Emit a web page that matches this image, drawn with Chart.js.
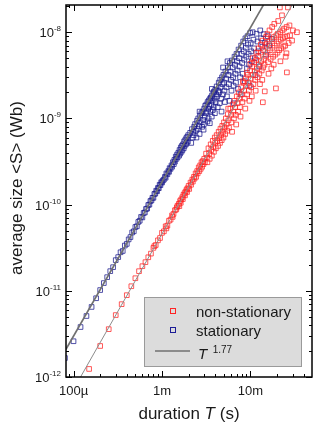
<!DOCTYPE html>
<html>
<head>
<meta charset="utf-8">
<script src="https://cdn.jsdelivr.net/npm/chart.js@4.4.1/dist/chart.umd.min.js"></script>
<style>
  html, body { margin: 0; padding: 0; background: #fff; }
  canvas { display: block; }
</style>
</head>
<body>
<canvas id="chart" width="323" height="428"></canvas>
<script>
// axis ranges (duration T in s, average size S in Wb)
const xRange = [8.22e-5, 4.96e-2];
const yRange = [1e-12, 2.07e-8];

const xLabelValues = [1e-4, 1e-3, 1e-2];
const xLabels = ['100µ', '1m', '10m'];
const yLabelValues = [1e-12, 1e-11, 1e-10, 1e-9, 1e-8];
const yLabelExps = ['-12', '-11', '-10', '-9', '-8'];

const seriesNames = ['non-stationary', 'stationary'];
const fitLabel = ['T', '1.77'];

// power law guides T^1.77 (end points read at the frame)
const statLineT = [8.22e-5, 1.4e-2];
const statLineS = [2.1e-12, 2.07e-8];
const nonLineT = [1.2e-4, 2.96e-2];
const nonLineS = [1e-12, 2.07e-8];

// stationary measurements [T, <S>]
const bluePoints = [
  [8e-5,1.66e-12],[1.0e-4,2.6e-12],[1.2e-4,3.8e-12],[1.4e-4,5.1e-12],[1.6e-4,6.5e-12],[1.8e-4,8.2e-12],
  [2.0e-4,1.02e-11],[2.2e-4,1.23e-11],[2.4e-4,1.44e-11],[2.6e-4,1.69e-11],[2.8e-4,1.88e-11],[3.0e-4,2.27e-11],
  [3.2e-4,2.46e-11],[3.4e-4,2.8e-11],
  [3.6e-4,2.9e-11],[3.8e-4,3.35e-11],[4.0e-4,3.5e-11],[4.2e-4,3.95e-11],[4.4e-4,4.2e-11],[4.6e-4,4.75e-11],
  [4.8e-4,4.9e-11],[5.0e-4,5.5e-11],[5.2e-4,5.6e-11],[5.4e-4,6.3e-11],[5.6e-4,6.5e-11],[5.8e-4,7.2e-11],
  [6.0e-4,7.1e-11],[6.2e-4,8.0e-11],[6.4e-4,8.1e-11],[6.6e-4,8.9e-11],[6.8e-4,9.0e-11],[7.0e-4,9.9e-11],
  [7.2e-4,1.0e-10],[7.4e-4,1.1e-10],[7.6e-4,1.12e-10],[7.8e-4,1.2e-10],[8.0e-4,1.2e-10],[8.2e-4,1.33e-10],
  [8.4e-4,1.34e-10],[8.6e-4,1.45e-10],[8.8e-4,1.43e-10],[9.0e-4,1.56e-10],[9.2e-4,1.55e-10],[9.4e-4,1.7e-10],
  [9.6e-4,1.68e-10],[9.8e-4,1.82e-10],[1.0e-3,1.8e-10],
  [1.02e-3,1.9e-10],[1.05e-3,1.95e-10],[1.08e-3,2.1e-10],[1.1e-3,2.05e-10],[1.12e-3,2.3e-10],[1.15e-3,2.25e-10],
  [1.18e-3,2.45e-10],[1.2e-3,2.4e-10],[1.22e-3,2.65e-10],[1.25e-3,2.6e-10],[1.28e-3,2.85e-10],[1.3e-3,2.75e-10],
  [1.33e-3,3.1e-10],[1.36e-3,2.95e-10],[1.38e-3,3.3e-10],[1.4e-3,3.15e-10],[1.43e-3,3.6e-10],[1.46e-3,3.4e-10],
  [1.48e-3,3.8e-10],[1.5e-3,3.55e-10],[1.53e-3,4.0e-10],[1.56e-3,3.7e-10],[1.58e-3,4.3e-10],[1.6e-3,3.9e-10],
  [1.63e-3,4.6e-10],[1.66e-3,4.1e-10],[1.68e-3,4.8e-10],[1.7e-3,4.3e-10],[1.73e-3,5.0e-10],[1.76e-3,4.5e-10],
  [1.78e-3,5.4e-10],[1.8e-3,4.8e-10],[1.83e-3,5.6e-10],[1.86e-3,5.0e-10],[1.88e-3,5.9e-10],[1.9e-3,5.2e-10],
  [1.93e-3,6.1e-10],[1.96e-3,5.4e-10],[1.98e-3,6.4e-10],
  [2.08e-3,6.8e-10],[2.14e-3,5.2e-10],[2.18e-3,7.5e-10],[2.23e-3,6.0e-10],[2.26e-3,7.0e-10],[2.31e-3,8.0e-10],
  [2.28e-3,6.4e-10],[2.37e-3,8.6e-10],[2.42e-3,7.2e-10],[2.45e-3,6.0e-10],[2.49e-3,9.4e-10],[2.53e-3,7.6e-10],
  [2.57e-3,1.0e-9],[2.62e-3,8.2e-10],[2.66e-3,6.6e-10],[2.69e-3,1.08e-9],[2.73e-3,9.0e-10],[2.66e-3,1.2e-9],
  [2.79e-3,1.15e-9],[2.84e-3,8.0e-10],[2.88e-3,1.2e-9],[2.93e-3,9.6e-10],[2.95e-3,7.4e-10],[3.0e-3,1.3e-9],
  [3.04e-3,1.05e-9],[2.98e-3,8.6e-10],[3.08e-3,1.4e-9],[3.13e-3,1.15e-9],[3.17e-3,1.45e-9],[3.22e-3,1.2e-9],
  [3.26e-3,9.2e-10],[3.28e-3,1.55e-9],[3.33e-3,1.3e-9],[3.36e-3,1.0e-9],[3.39e-3,1.62e-9],[3.44e-3,1.4e-9],
  [3.47e-3,8.8e-10],[3.5e-3,1.7e-9],[3.53e-3,1.2e-9],[3.57e-3,1.75e-9],[3.62e-3,1.45e-9],[3.65e-3,1.05e-9],
  [3.68e-3,1.85e-9],[3.72e-3,1.6e-9],[3.75e-3,1.25e-9],[3.66e-3,2.2e-9],[3.81e-3,2.0e-9],[3.85e-3,1.35e-9],
  [3.88e-3,2.05e-9],[3.93e-3,1.7e-9],[3.96e-3,1.15e-9],[4.0e-3,2.15e-9],[4.05e-3,1.55e-9],[4.09e-3,1.9e-9],
  [4.15e-3,2.35e-9],[4.21e-3,1.8e-9],[4.26e-3,1.35e-9],[4.32e-3,2.1e-9],[4.38e-3,2.6e-9],[4.43e-3,2.0e-9],
  [4.48e-3,1.5e-9],[4.55e-3,2.8e-9],[4.6e-3,2.3e-9],[4.66e-3,1.7e-9],[4.71e-3,1.2e-9],[4.77e-3,3.0e-9],
  [4.83e-3,2.5e-9],[4.88e-3,1.9e-9],[4.9e-3,3.9e-9],[4.95e-3,3.2e-9],[5.02e-3,2.6e-9],[5.08e-3,2.1e-9],
  [5.14e-3,1.55e-9],[5.21e-3,3.5e-9],[5.28e-3,2.9e-9],[5.35e-3,2.3e-9],[5.42e-3,1.8e-9],[5.5e-3,4.6e-9],
  [5.56e-3,3.9e-9],[5.63e-3,3.2e-9],[5.7e-3,2.5e-9],[5.78e-3,1.6e-9],[5.86e-3,4.4e-9],[5.95e-3,3.5e-9],
  [6.03e-3,2.8e-9],[6.1e-3,2.1e-9],[6.18e-3,4.7e-9],[6.27e-3,3.9e-9],[6.36e-3,3.0e-9],[6.44e-3,2.4e-9],
  [6.5e-3,1.5e-9],[6.6e-3,5.2e-9],[6.68e-3,4.2e-9],[6.77e-3,3.3e-9],[6.86e-3,2.6e-9],[6.95e-3,5.6e-9],
  [7.05e-3,4.6e-9],[7.14e-3,3.6e-9],[7.23e-3,2.2e-9],[7.33e-3,6.3e-9],[7.43e-3,5.0e-9],[7.53e-3,4.0e-9],
  [7.63e-3,3.0e-9],[7.73e-3,1.9e-9],[7.84e-3,7.0e-9],[7.95e-3,5.6e-9],[8.06e-3,4.4e-9],[8.17e-3,3.3e-9],
  [8.28e-3,7.8e-9],[8.4e-3,6.0e-9],[8.52e-3,4.8e-9],[8.64e-3,2.7e-9],[8.76e-3,8.5e-9],[8.88e-3,6.6e-9],
  [9.0e-3,5.2e-9],[9.13e-3,3.8e-9],[9.26e-3,9.0e-9],[9.39e-3,7.2e-9],[9.52e-3,5.6e-9],[9.65e-3,4.2e-9],
  [9.78e-3,2.4e-9],[9.92e-3,9.8e-9],[1.006e-2,7.5e-9],[1.02e-2,6.0e-9],[1.035e-2,4.6e-9],[1.06e-2,1.0e-8],
  [1.08e-2,8.2e-9],[1.1e-2,6.5e-9],[1.12e-2,5.0e-9],[1.14e-2,3.2e-9],[1.17e-2,9.6e-9],[1.2e-2,7.8e-9],
  [1.23e-2,6.0e-9],[1.26e-2,4.0e-9],[1.29e-2,1.05e-8],[1.32e-2,8.5e-9],[1.36e-2,6.8e-9],[1.41e-2,9.5e-9],
  [1.46e-2,7.5e-9],[1.5e-2,5.5e-9],[1.57e-2,9.0e-9],[1.63e-2,7.0e-9],[1.75e-2,8.4e-9]
];

// non-stationary measurements [T, <S>]
const redPoints = [
  [1.5e-4,1.24e-12],[2.0e-4,2.29e-12],[2.5e-4,3.59e-12],[3.0e-4,5.23e-12],[3.5e-4,7.0e-12],[4.0e-4,8.9e-12],
  [4.5e-4,1.13e-11],[5.0e-4,1.4e-11],[5.5e-4,1.69e-11],[6.0e-4,1.93e-11],
  [6.5e-4,2.15e-11],[7.0e-4,2.45e-11],[7.5e-4,2.7e-11],[8.0e-4,3.15e-11],[8.2e-4,3.3e-11],[8.5e-4,3.4e-11],
  [9.0e-4,3.85e-11],[9.5e-4,4.1e-11],[1.0e-3,4.7e-11],[1.05e-3,4.9e-11],[1.1e-3,5.6e-11],[1.12e-3,5.3e-11],
  [1.15e-3,5.7e-11],[1.2e-3,6.5e-11],[1.25e-3,6.7e-11],[1.3e-3,7.5e-11],[1.32e-3,7.2e-11],[1.35e-3,7.8e-11],
  [1.4e-3,8.6e-11],[1.45e-3,8.8e-11],[1.47e-3,9.3e-11],[1.5e-3,9.7e-11],
  [1.55e-3,1.02e-10],[1.57e-3,9.6e-11],[1.6e-3,1.1e-10],[1.63e-3,1.05e-10],[1.65e-3,1.15e-10],[1.7e-3,1.22e-10],
  [1.72e-3,1.16e-10],[1.75e-3,1.3e-10],[1.8e-3,1.36e-10],[1.82e-3,1.28e-10],[1.85e-3,1.42e-10],[1.9e-3,1.5e-10],
  [1.92e-3,1.4e-10],[1.95e-3,1.55e-10],[2.0e-3,1.65e-10],[2.03e-3,1.52e-10],[2.1e-3,1.8e-10],[2.13e-3,1.7e-10],
  [2.2e-3,1.95e-10],[2.23e-3,1.85e-10],[2.3e-3,2.1e-10],[2.33e-3,2.0e-10],[2.4e-3,2.3e-10],[2.43e-3,2.1e-10],
  [2.5e-3,2.45e-10],[2.53e-3,2.3e-10],[2.6e-3,2.7e-10],[2.64e-3,2.45e-10],[2.7e-3,2.85e-10],[2.74e-3,2.6e-10],
  [2.8e-3,3.1e-10],[2.84e-3,2.75e-10],[2.9e-3,3.2e-10],[2.94e-3,2.95e-10],[3.0e-3,3.4e-10],[3.05e-3,3.1e-10],
  [3.15e-3,3.9e-10],[3.2e-3,3.5e-10],[3.26e-3,3.1e-10],[3.35e-3,4.5e-10],[3.4e-3,3.9e-10],[3.46e-3,3.4e-10],
  [3.55e-3,5.0e-10],[3.6e-3,4.3e-10],[3.66e-3,3.7e-10],[3.75e-3,5.5e-10],[3.8e-3,4.7e-10],[3.86e-3,4.1e-10],
  [3.95e-3,6.0e-10],[4.0e-3,5.2e-10],[4.06e-3,4.5e-10],
  [4.15e-3,6.4e-10],[4.22e-3,5.5e-10],[4.3e-3,4.8e-10],[4.37e-3,7.0e-10],[4.45e-3,6.0e-10],[4.52e-3,5.2e-10],
  [4.58e-3,7.6e-10],[4.66e-3,6.5e-10],[4.73e-3,5.6e-10],[4.8e-3,8.2e-10],[4.88e-3,7.0e-10],[4.95e-3,6.0e-10],
  [5.02e-3,9.0e-10],[5.1e-3,7.8e-10],[5.18e-3,6.6e-10],[5.27e-3,1.0e-9],[5.36e-3,8.5e-10],[5.45e-3,7.2e-10],
  [5.54e-3,1.12e-9],[5.63e-3,9.5e-10],[5.72e-3,7.8e-10],[5.6e-3,1.3e-9],[5.92e-3,1.3e-9],[6.01e-3,1.1e-9],
  [6.1e-3,9.0e-10],[6.2e-3,7.0e-10],[6.3e-3,1.45e-9],[6.4e-3,1.2e-9],[6.5e-3,1.0e-9],[6.6e-3,1.6e-9],
  [6.7e-3,1.35e-9],[6.8e-3,1.1e-9],[6.9e-3,8.5e-10],[7.0e-3,1.8e-9],[7.12e-3,1.5e-9],[7.24e-3,1.2e-9],
  [7.36e-3,2.0e-9],[7.48e-3,1.7e-9],[7.6e-3,1.35e-9],[7.72e-3,1.05e-9],[7.85e-3,2.3e-9],[7.98e-3,1.9e-9],
  [8.1e-3,1.55e-9],[8.2e-3,2.7e-9],[8.35e-3,2.6e-9],[8.48e-3,2.1e-9],[8.6e-3,1.7e-9],[8.74e-3,1.3e-9],
  [8.88e-3,2.9e-9],[9.02e-3,2.4e-9],[9.16e-3,1.9e-9],[9.1e-3,3.4e-9],[9.3e-3,3.2e-9],[9.45e-3,2.6e-9],
  [9.6e-3,2.1e-9],[9.75e-3,1.6e-9],[9.9e-3,3.6e-9],[1.005e-2,2.9e-9],[1.02e-2,2.3e-9],[1.0e-2,4.3e-9],
  [1.035e-2,1.8e-9],[1.05e-2,4.0e-9],[1.065e-2,3.2e-9],[1.08e-2,2.5e-9],[1.06e-2,5.0e-9],[1.1e-2,4.5e-9],
  [1.115e-2,3.5e-9],[1.13e-2,2.8e-9],[1.145e-2,2.1e-9],[1.16e-2,4.8e-9],[1.18e-2,3.8e-9],[1.2e-2,3.0e-9],
  [1.17e-2,5.8e-9],[1.22e-2,5.3e-9],[1.24e-2,4.2e-9],[1.26e-2,3.3e-9],[1.23e-2,6.5e-9],[1.28e-2,2.5e-9],
  [1.3e-2,5.8e-9],[1.32e-2,4.6e-9],[1.34e-2,3.6e-9],[1.31e-2,7.2e-9],[1.36e-2,2.8e-9],[1.38e-2,1.54e-9],
  [1.4e-2,6.2e-9],[1.42e-2,4.9e-9],[1.39e-2,3.9e-9],[1.37e-2,8.0e-9],[1.45e-2,2.06e-9],[1.47e-2,6.8e-9],
  [1.49e-2,5.3e-9],[1.44e-2,4.2e-9],[1.5e-2,8.8e-9],[1.53e-2,7.3e-9],[1.56e-2,5.8e-9],[1.58e-2,4.5e-9],
  [1.55e-2,9.5e-9],[1.6e-2,3.3e-9],[1.63e-2,7.8e-9],[1.66e-2,6.2e-9],[1.69e-2,4.9e-9],[1.64e-2,1.05e-8],
  [1.72e-2,3.8e-9],[1.74e-2,8.3e-9],[1.77e-2,6.6e-9],[1.8e-2,5.2e-9],[1.76e-2,1.15e-8],[1.83e-2,4.2e-9],
  [1.84e-2,8.8e-9],[1.88e-2,7.0e-9],[1.91e-2,5.5e-9],[1.86e-2,1.25e-8],[1.94e-2,2.23e-9],[1.96e-2,9.2e-9],
  [1.99e-2,7.4e-9],[2.02e-2,5.8e-9],[2.04e-2,9.6e-9],[2.08e-2,7.8e-9],[2.11e-2,6.2e-9],[2.06e-2,1.35e-8],
  [2.15e-2,1.94e-8],[2.17e-2,1.0e-8],[2.2e-2,8.2e-9],[2.23e-2,6.5e-9],[2.18e-2,4.6e-9],[2.27e-2,1.57e-8],
  [2.3e-2,1.05e-8],[2.33e-2,8.5e-9],[2.36e-2,6.8e-9],[2.4e-2,1.1e-8],[2.44e-2,8.8e-9],[2.47e-2,7.0e-9],
  [2.5e-2,5.2e-9],[2.58e-2,3.42e-9],[2.55e-2,5.7e-9],[2.6e-2,9.0e-9],[2.56e-2,1.15e-8],[2.65e-2,1.94e-8],
  [2.7e-2,7.5e-9],[2.8e-2,9.2e-9],[2.76e-2,1.2e-8],[2.95e-2,8.0e-9],[3.02e-2,1.05e-8],[3.35e-2,1.0e-8]
];

const redColor = 'rgba(255, 35, 35, 0.75)';
const blueColor = 'rgba(25, 25, 140, 0.75)';
const fitColor = '#707070';
const textColor = '#1a1a1a';
const fontFamily = '"Liberation Sans", Arial, sans-serif';

function toXY(pairs) {
  return pairs.map(p => ({ x: p[0], y: p[1] }));
}

function zipXY(xs, ys) {
  return xs.map((v, i) => ({ x: v, y: ys[i] }));
}

// 1..9 x 10^n inside the range
function logTicks(min, max) {
  const out = [];
  for (let e = Math.floor(Math.log10(min)); e <= Math.ceil(Math.log10(max)); e++) {
    for (let k = 1; k <= 9; k++) {
      const v = k * Math.pow(10, e);
      if (v >= min * 0.999 && v <= max * 1.001) out.push({ v: v, major: k === 1 });
    }
  }
  return out;
}

// draws text parts one after the other, returns total width
function drawParts(ctx, parts, x, y, measureOnly) {
  let cx = x;
  parts.forEach(p => {
    ctx.font = p.font;
    if (!measureOnly) ctx.fillText(p.text, cx, y + (p.dy || 0));
    cx += ctx.measureText(p.text).width;
  });
  return cx - x;
}

const decor = {
  id: 'decor',
  afterDraw(chart) {
    const { ctx, chartArea: a } = chart;
    const xs = chart.scales.x;
    const ys = chart.scales.y;
    ctx.save();

    // inward ticks on all four sides
    ctx.strokeStyle = '#000';
    ctx.lineWidth = 1;
    ctx.beginPath();
    logTicks(xs.min, xs.max).forEach(t => {
      const px = Math.round(xs.getPixelForValue(t.v)) + 0.5;
      const len = t.major ? 6 : 3;
      ctx.moveTo(px, a.bottom); ctx.lineTo(px, a.bottom - len);
      ctx.moveTo(px, a.top); ctx.lineTo(px, a.top + len);
    });
    logTicks(ys.min, ys.max).forEach(t => {
      const py = Math.round(ys.getPixelForValue(t.v)) + 0.5;
      const len = t.major ? 6 : 3;
      ctx.moveTo(a.left, py); ctx.lineTo(a.left + len, py);
      ctx.moveTo(a.right, py); ctx.lineTo(a.right - len, py);
    });
    ctx.stroke();

    ctx.lineWidth = 1.5;
    ctx.strokeRect(a.left, a.top, a.right - a.left, a.bottom - a.top);

    // tick labels
    ctx.fillStyle = textColor;
    ctx.textBaseline = 'alphabetic';
    ctx.font = '13px ' + fontFamily;
    ctx.textAlign = 'center';
    xLabelValues.forEach((v, i) => {
      ctx.fillText(xLabels[i], xs.getPixelForValue(v), 395);
    });
    ctx.textAlign = 'left';
    yLabelValues.forEach((v, i) => {
      const py = ys.getPixelForValue(v);
      const parts = [
        { text: '10', font: '13px ' + fontFamily },
        { text: yLabelExps[i], font: '8px ' + fontFamily, dy: -6 }
      ];
      const w = drawParts(ctx, parts, 0, 0, true);
      drawParts(ctx, parts, 61 - w, py + 5, false);
    });

    // axis titles
    const titleFont = '17px ' + fontFamily;
    const xTitle = [
      { text: 'duration ', font: titleFont },
      { text: 'T', font: 'italic ' + titleFont },
      { text: ' (s)', font: titleFont }
    ];
    const wx = drawParts(ctx, xTitle, 0, 0, true);
    drawParts(ctx, xTitle, (a.left + a.right) / 2 - wx / 2, 419, false);

    ctx.save();
    ctx.translate(22, (a.top + a.bottom) / 2 - 3);
    ctx.rotate(-Math.PI / 2);
    ctx.font = titleFont;
    ctx.textAlign = 'center';
    ctx.fillText('average size <S> (Wb)', 0, 0);
    ctx.restore();

    // legend box
    ctx.fillStyle = '#dcdcdc';
    ctx.fillRect(144, 297, 158, 70);
    ctx.strokeStyle = '#9a9a9a';
    ctx.lineWidth = 1;
    ctx.strokeRect(144.5, 297.5, 157, 69);

    ctx.lineWidth = 1;
    ctx.strokeStyle = '#ff2424';
    ctx.strokeRect(170.5, 308.5, 5, 5);
    ctx.strokeStyle = '#1c1c96';
    ctx.strokeRect(170.5, 327.5, 5, 5);
    ctx.strokeStyle = fitColor;
    ctx.lineWidth = 1.5;
    ctx.beginPath();
    ctx.moveTo(155, 351);
    ctx.lineTo(190, 351);
    ctx.stroke();

    ctx.fillStyle = textColor;
    ctx.textAlign = 'left';
    ctx.font = '15px ' + fontFamily;
    ctx.fillText(seriesNames[0], 196, 317);
    ctx.fillText(seriesNames[1], 196, 336);
    drawParts(ctx, [
      { text: fitLabel[0], font: 'italic 15px ' + fontFamily },
      { text: '  ' + fitLabel[1], font: '10px ' + fontFamily, dy: -6 }
    ], 198, 359, false);

    ctx.restore();
  }
};

new Chart(document.getElementById('chart'), {
  type: 'scatter',
  data: {
    datasets: [
      {
        label: 'T^1.77 stationary',
        data: zipXY(statLineT, statLineS),
        showLine: true,
        borderColor: fitColor,
        borderWidth: 1.6,
        pointRadius: 0,
        clip: 0,
        order: 0
      },
      {
        label: 'T^1.77 non-stationary',
        data: zipXY(nonLineT, nonLineS),
        showLine: true,
        borderColor: '#8c8c8c',
        borderWidth: 1,
        pointRadius: 0,
        clip: 0,
        order: 0
      },
      {
        label: seriesNames[0],
        data: toXY(redPoints),
        pointStyle: 'rect',
        pointRadius: 3.3,
        pointBorderWidth: 1,
        borderColor: redColor,
        backgroundColor: 'rgba(0,0,0,0)',
        clip: 0,
        order: 1
      },
      {
        label: seriesNames[1],
        data: toXY(bluePoints),
        pointStyle: 'rect',
        pointRadius: 3.3,
        pointBorderWidth: 1,
        borderColor: blueColor,
        backgroundColor: 'rgba(0,0,0,0)',
        clip: 0,
        order: 2
      }
    ]
  },
  options: {
    responsive: false,
    animation: false,
    devicePixelRatio: 1,
    layout: { padding: { top: 5, right: 11, left: 0, bottom: 0 } },
    plugins: {
      legend: { display: false },
      tooltip: { enabled: false }
    },
    scales: {
      x: {
        type: 'logarithmic',
        min: xRange[0],
        max: xRange[1],
        ticks: { display: false },
        grid: { display: false },
        border: { display: false },
        afterFit: scale => { scale.height = 51; }
      },
      y: {
        type: 'logarithmic',
        min: yRange[0],
        max: yRange[1],
        ticks: { display: false },
        grid: { display: false },
        border: { display: false },
        afterFit: scale => { scale.width = 66; }
      }
    }
  },
  plugins: [decor]
});
</script>
</body>
</html>
